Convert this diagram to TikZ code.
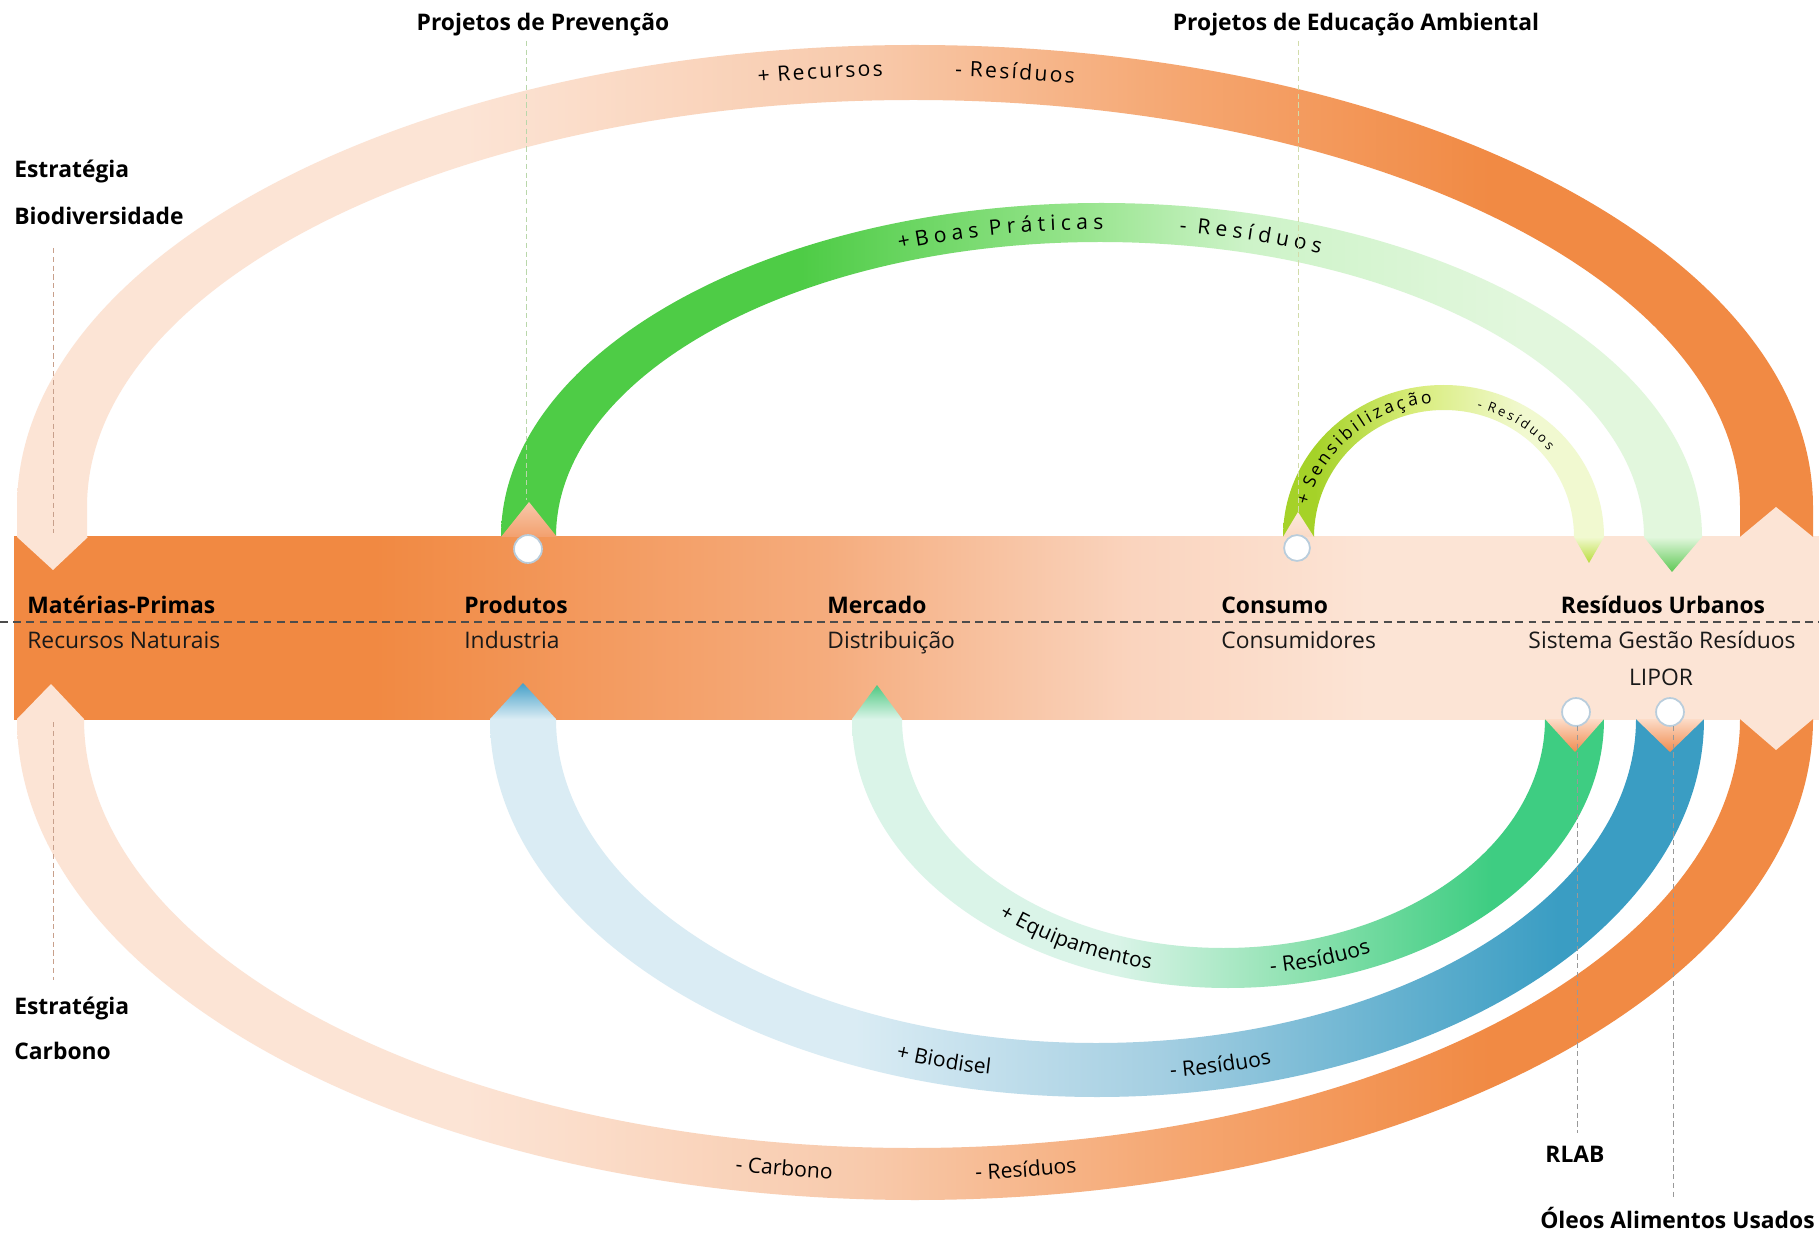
\documentclass[tikz,border=0pt]{standalone}
\usepackage{fontspec}
\setmainfont{Open Sans}
\usetikzlibrary{decorations.text}
\newcommand\arcA{\fontsize{12}{14}\selectfont}
\newcommand\arcC{\fontsize{10}{12}\selectfont}
\newcommand\arcD{\fontsize{7.5}{9}\selectfont}
\newcommand\arcE{\fontsize{12}{14}\selectfont}
\newcommand\la{\kern1.3pt}
\newcommand\lb{\kern3pt}
\newcommand\lc{\kern2pt}
\newcommand\ld{\kern1.8pt}
% band
\definecolor{bA}{RGB}{241,137,66}
\definecolor{bB}{RGB}{245,172,125}
\definecolor{bC}{RGB}{250,212,190}
\definecolor{bD}{RGB}{252,228,213}
\pgfdeclarehorizontalshading{bandsh}{100bp}{color(0bp)=(bA); color(35bp)=(bA); color(47.5bp)=(bB); color(56bp)=(bC); color(62.5bp)=(bD); color(100bp)=(bD)}
% orange arcs
\definecolor{oP}{RGB}{252,228,213}
\definecolor{oQ}{RGB}{248,202,172}
\definecolor{oR}{RGB}{245,166,112}
\definecolor{oF}{RGB}{241,138,68}
\pgfdeclarehorizontalshading{orsh}{100bp}{color(0bp)=(oP); color(37.5bp)=(oP); color(48.5bp)=(oQ); color(57.5bp)=(oR); color(66bp)=(oF); color(100bp)=(oF)}
% green arc
\definecolor{gA}{RGB}{78,204,70}
\definecolor{gB}{RGB}{150,228,140}
\definecolor{gC}{RGB}{205,243,200}
\definecolor{gD}{RGB}{226,247,221}
\pgfdeclarehorizontalshading{grsh}{100bp}{color(0bp)=(gA); color(37.5bp)=(gA); color(49bp)=(gB); color(56bp)=(gC); color(67.5bp)=(gD); color(100bp)=(gD)}
% yellow arc
\definecolor{yA}{RGB}{165,210,40}
\definecolor{yB}{RGB}{215,236,120}
\definecolor{yC}{RGB}{241,249,208}
\pgfdeclarehorizontalshading{ysh}{100bp}{color(0bp)=(yA); color(30bp)=(yA); color(45bp)=(yB); color(62.5bp)=(yC); color(100bp)=(yC)}
% equipment arc
\definecolor{eA}{RGB}{218,244,232}
\definecolor{eB}{RGB}{140,225,175}
\definecolor{eC}{RGB}{62,205,130}
\pgfdeclarehorizontalshading{esh}{100bp}{color(0bp)=(eA); color(42.5bp)=(eA); color(55bp)=(eB); color(67.5bp)=(eC); color(100bp)=(eC)}
% blue arc
\definecolor{uA}{RGB}{218,236,244}
\definecolor{uB}{RGB}{165,207,226}
\definecolor{uC}{RGB}{58,157,195}
\pgfdeclarehorizontalshading{ush}{100bp}{color(0bp)=(uA); color(40bp)=(uA); color(52.5bp)=(uB); color(69bp)=(uC); color(100bp)=(uC)}
\definecolor{cblue}{RGB}{185,205,220}
\definecolor{txt}{RGB}{25,25,25}
\begin{document}
\begin{tikzpicture}[x=0.02cm, y=-0.02cm,
  lab/.style={inner sep=0pt, text=txt, font=\fontsize{13}{15}\selectfont},
  labb/.style={inner sep=0pt, text=black, font=\fontsize{13}{15}\selectfont\bfseries},
  vline/.style={line width=0.5pt, dash pattern=on 3pt off 2pt},
  circ/.style={fill=white, draw=cblue, line width=1pt, circle, inner sep=0pt},
  arctext/.style 2 args={decorate, decoration={text along path, text={#1}, text align=center, raise=#2}}]
\useasboundingbox (0,0) rectangle (1819,1236);
\fill[white] (0,0) rectangle (1819,1236);

% central band
\shade[shading=bandsh] (14,537) rectangle (1819,719);

% top outer arc
\shade[shading=orsh] (17,537) -- (17,507) arc[start angle=180, end angle=360, x radius=898, y radius=462] -- (1813,537) -- (1740,537) -- (1740,507) arc[start angle=360, end angle=180, x radius=826.5, y radius=407] -- (87,537) -- cycle;
% bottom outer arc
\shade[shading=orsh] (17,719) arc[start angle=180, end angle=0, x radius=898, y radius=481] -- (1740,719) arc[start angle=0, end angle=180, x radius=828, y radius=429] -- cycle;
% green arc
\shade[shading=grsh] (501,537) arc[start angle=180, end angle=360, x radius=600.5, y radius=334] -- (1644,537) arc[start angle=360, end angle=180, x radius=544, y radius=295] -- cycle;
% yellow arc
\shade[shading=ysh] (1283,537) arc[start angle=180, end angle=360, x radius=160.5, y radius=152] -- (1574,537) arc[start angle=360, end angle=180, x radius=130, y radius=127] -- cycle;
% blue arc
\shade[shading=ush] (490,719) arc[start angle=180, end angle=0, x radius=607, y radius=378] -- (1636,719) arc[start angle=0, end angle=180, x radius=540, y radius=324] -- cycle;
% equipment arc
\shade[shading=esh] (852,719) arc[start angle=180, end angle=0, x radius=376, y radius=269] -- (1545,719) arc[start angle=0, end angle=180, x radius=321.5, y radius=229] -- cycle;

% arrow ends and notches
\fill[oP] (17,537) -- (88,537) -- (53,570) -- cycle;
\fill[oP] (17,719) -- (84,719) -- (51,684) -- cycle;
\fill[bD] (1740,537) -- (1813,537) -- (1776,507) -- cycle;
\fill[bD] (1740,719) -- (1813,719) -- (1776,750) -- cycle;
\shade[top color={rgb,255:red,247;green,200;blue,170}, bottom color={rgb,255:red,243;green,160;blue,110}] (501,537) -- (557,537) -- (529,502) -- cycle;
\shade[top color={rgb,255:red,252;green,232;blue,218}, bottom color={rgb,255:red,250;green,218;blue,198}] (1283,537) -- (1314,537) -- (1298,512) -- cycle;
\shade[top color=gD, bottom color={rgb,255:red,95;green,200;blue,85}] (1644,537) -- (1702,537) -- (1672,572) -- cycle;
\shade[top color=yC, bottom color={rgb,255:red,185;green,220;blue,60}] (1574,537) -- (1604,537) -- (1589,563) -- cycle;
\shade[top color={rgb,255:red,80;green,200;blue,130}, bottom color=eA] (852,719) -- (902,719) -- (877,685) -- cycle;
\shade[top color={rgb,255:red,70;green,160;blue,200}, bottom color=uA] (490,719) -- (556,719) -- (523,683) -- cycle;
\shade[top color={rgb,255:red,252;green,220;blue,200}, bottom color={rgb,255:red,240;green,140;blue,80}] (1545,719) -- (1604,719) -- (1575,752) -- cycle;
\shade[top color={rgb,255:red,252;green,220;blue,200}, bottom color={rgb,255:red,240;green,140;blue,80}] (1636,719) -- (1704,719) -- (1670,752) -- cycle;

% circles
\node[circ, minimum size=28*0.567pt] (cProd) at (528,549) {};
\node[circ, minimum size=26*0.567pt] (cCons) at (1297,548) {};
\node[circ, minimum size=28*0.567pt] (cRlab) at (1576,712) {};
\node[circ, minimum size=28*0.567pt] (cOleo) at (1670,712) {};

% central dashed line
\coordinate (dL) at (0,622);
\coordinate (dR) at (1819,622);
\draw[line width=0.8pt, black!70, dash pattern=on 4.5pt off 3pt] (dL) -- (dR);

% band labels
\node[labb, anchor=base west] (mp) at (27,613) {Matérias-Primas};
\node[lab, anchor=base west] (rn) at (27,648) {Recursos Naturais};
\node[labb, anchor=base west] (prod) at (464,613) {Produtos};
\node[lab, anchor=base west] (ind) at (464,648) {Industria};
\node[labb, anchor=base west] (merc) at (827,613) {Mercado};
\node[lab, anchor=base west] (dist) at (827,648) {Distribuição};
\node[labb, anchor=base west] (cons) at (1221,613) {Consumo};
\node[lab, anchor=base west] (consd) at (1221,648) {Consumidores};
\node[labb, anchor=base] (ru) at (1663,613) {Resíduos Urbanos};
\node[lab, anchor=base] (sgr) at (1662,648) {Sistema Gestão Resíduos};
\node[lab, anchor=base] (lipor) at (1661,685) {LIPOR};

% outer labels
\node[labb, anchor=base] (prev) at (543,31) {Projetos de Prevenção};
\node[labb, anchor=base] (educ) at (1356,31) {Projetos de Educação Ambiental};
\node[labb, anchor=base west] (eb1) at (14,178) {Estratégia};
\node[labb, anchor=base west] (eb2) at (14,225) {Biodiversidade};
\node[labb, anchor=base west] (ec1) at (14,1014) {Estratégia};
\node[labb, anchor=base west] (ec2) at (14,1059) {Carbono};
\node[labb, anchor=base] (rlab) at (1575,1162) {RLAB};
\node[labb, anchor=base east] (oleos) at (1815,1228) {Óleos Alimentos Usados};

% arc labels
\path[shift={(914,507)}, arctext={|\arcA|{+\la} {R\la}{e\la}{c\la}{u\la}{r\la}{s\la}{o\la}s}{-2pt}] (248.6:862 and 434.5) arc[start angle=248.6, end angle=278.6, x radius=862, y radius=434.5];
\path[shift={(914,507)}, arctext={|\arcA|{-\la} {R\la}{e\la}{s\la}{í\la}{d\la}{u\la}{o\la}s}{-2pt}] (261.9:862 and 434.5) arc[start angle=261.9, end angle=291.9, x radius=862, y radius=434.5];
\path[shift={(1101,537)}, arctext={|\arcA|{+\lb}{B\lb}{o\lb}{a\lb}{s\lb} {P\lb}{r\lb}{á\lb}{t\lb}{i\lb}{c\lb}{a\lb}s}{-4pt}] (239.4:572 and 314.5) arc[start angle=239.4, end angle=279.4, x radius=572, y radius=314.5];
\path[shift={(1101,537)}, arctext={|\arcA|{-\lb} {R\lb}{e\lb}{s\lb}{í\lb}{d\lb}{u\lb}{o\lb}s}{-4pt}] (270.6:572 and 314.5) arc[start angle=270.6, end angle=300.6, x radius=572, y radius=314.5];
\path[shift={(1444,537)}, arctext={|\arcC|{+\lc} {S\lc}{e\lc}{n\lc}{s\lc}{i\lc}{b\lc}{i\lc}{l\lc}{i\lc}{z\lc}{a\lc}{ç\lc}{ã\lc}o}{-3pt}] (174:145 and 139.5) arc[start angle=174, end angle=284, x radius=145, y radius=139.5];
\path[shift={(1444,537)}, arctext={|\arcD|{-\ld} {R\ld}{e\ld}{s\ld}{í\ld}{d\ld}{u\ld}{o\ld}s}{-4pt}] (276.6:145 and 139.5) arc[start angle=276.6, end angle=326.6, x radius=145, y radius=139.5];
\path[shift={(913,719)}, arctext={|\arcE|- Carbono}{-4pt}] (113.8:863 and 455) arc[start angle=113.8, end angle=83.8, x radius=863, y radius=455];
\path[shift={(913,719)}, arctext={|\arcE|- Resíduos}{-4pt}] (97.3:863 and 455) arc[start angle=97.3, end angle=67.3, x radius=863, y radius=455];
\path[shift={(1096.5,719)}, arctext={|\arcE|+ Biodisel}{-6pt}] (120.7:573.5 and 351) arc[start angle=120.7, end angle=90.7, x radius=573.5, y radius=351];
\path[shift={(1096.5,719)}, arctext={|\arcE|- Resíduos}{-6pt}] (92.3:573.5 and 351) arc[start angle=92.3, end angle=62.3, x radius=573.5, y radius=351];
\path[shift={(1226,719)}, arctext={|\arcE|+ Equipamentos}{-4pt}] (141.9:349 and 249) arc[start angle=141.9, end angle=91.9, x radius=349, y radius=249];
\path[shift={(1226,719)}, arctext={|\arcE|- Resíduos}{-4pt}] (93.9:349 and 249) arc[start angle=93.9, end angle=53.9, x radius=349, y radius=249];

% vertical dashed guide lines
\coordinate (prevEnd) at (526,500);
\coordinate (educEnd) at (1298,512);
\coordinate (bioTop) at (53,248);
\coordinate (bioEnd) at (53,533);
\coordinate (carTop) at (53,722);
\coordinate (carEnd) at (53,980);
\coordinate (rlabTop) at (1577,726);
\coordinate (rlabEnd) at (1577,1133);
\coordinate (oleoTop) at (1673,726);
\coordinate (oleoEnd) at (1673,1197);
\draw[vline, color={rgb,255:red,185;green,215;blue,170}] (prev.south -| prevEnd) ++(0,4) -- (prevEnd);
\draw[vline, color={rgb,255:red,210;green,220;blue,170}] (educ.south -| educEnd) ++(0,4) -- (educEnd);
\draw[vline, color={rgb,255:red,200;green,160;blue,140}] (bioTop) -- (bioEnd);
\draw[vline, color={rgb,255:red,200;green,160;blue,140}] (carTop) -- (carEnd);
\draw[vline, color=black!40] (rlabTop) -- (rlabEnd);
\draw[vline, color=black!40] (oleoTop) -- (oleoEnd);
\end{tikzpicture}
\end{document}
